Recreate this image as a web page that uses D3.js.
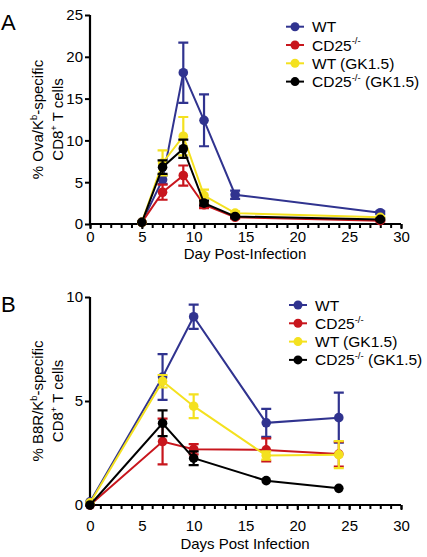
<!DOCTYPE html>
<html><head><meta charset="utf-8">
<script src="https://cdn.jsdelivr.net/npm/d3@7"></script>
<style>body{margin:0;background:#fff}svg{display:block;font-family:"Liberation Sans",Arial,sans-serif}</style>
</head><body><svg id="c" width="427" height="557"></svg>
<script>
const seriesNames = ["WT", "CD25", "WT (GK1.5)", "CD25 (GK1.5)"];
const seriesColors = ["#30338f", "#c8161d", "#f4e11f", "#000000"];

// Panel A
const daysA = [5, 7, 9, 11, 14, 28];
const aWT = [0.2, 5.3, 18.1, 12.4, 3.5, 1.35];
const aWTerr = [0, 0.5, 3.6, 3.1, 0.5, 0.15];
const aCD25 = [0.2, 3.8, 5.8, 2.3, 0.8, 0.4];
const aCD25err = [0, 0.9, 1.2, 0.4, 0.15, 0.1];
const aWTgk = [0.2, 7.3, 10.5, 3.4, 1.3, 0.8];
const aWTgkErr = [0, 1.5, 2.3, 0.7, 0.2, 0.1];
const aCD25gk = [0.2, 6.8, 9.0, 2.5, 0.9, 0.55];
const aCD25gkErr = [0, 0.8, 1.1, 0.3, 0.1, 0.1];

// Panel B
const daysB = [0, 7, 10, 17, 24];
const bWT = [0.15, 6.15, 9.05, 3.95, 4.2];
const bWTerr = [0, 1.1, 0.58, 0.67, 1.2];
const bCD25 = [0, 3.05, 2.68, 2.65, 2.45];
const bCD25err = [0, 1.1, 0.25, 0.55, 0.6];
const bWTgk = [0.1, 5.95, 4.75, 2.38, 2.42];
const bWTgkErr = [0, 0.3, 0.57, 0.2, 0.65];
const bCD25gk = [0, 3.93, 2.25, 1.17, 0.8];
const bCD25gkErr = [0, 0.62, 0.33, 0, 0];

const yTicksA = [0, 5, 10, 15, 20, 25];
const yTicksB = [0, 5, 10];
const xTicks = [0, 5, 10, 15, 20, 25, 30];

const svg = d3.select("#c");

function sup(sel, parts, fs) {
  let raised = false;
  parts.forEach(p => {
    const t = sel.append("tspan").text(p.t);
    if (p.sup) {
      t.attr("dy", -fs*0.4).attr("font-size", fs*0.62);
      raised = true;
    } else if (raised) {
      t.attr("dy", fs*0.4);
      raised = false;
    }
  });
}

function panel(opt) {
  const x = d3.scaleLinear().domain([0, 30]).range([90, 401]);
  const y = d3.scaleLinear().domain([0, opt.ymax]).range([opt.y0, opt.y1]);
  const g = svg.append("g");
  const FS = 15;
  // axes
  const xa = g.append("g").attr("transform", `translate(0,${opt.y0})`)
    .call(d3.axisBottom(x).tickValues(xTicks).tickSize(5).tickPadding(opt.xpad).tickFormat(d3.format("d")));
  const xm = g.append("g").attr("transform", `translate(0,${opt.y0})`)
    .call(d3.axisBottom(x).tickValues(d3.range(0, 31, 1)).tickSize(4).tickFormat(""));
  xm.select(".domain").remove();
  xm.selectAll("line").attr("stroke-width", 2);
  const ya = g.append("g").attr("transform", `translate(90,0)`)
    .call(d3.axisLeft(y).tickValues(opt.yTicks).tickSize(5).tickPadding(2));
  [xa, ya].forEach(a => {
    a.select(".domain").attr("stroke-width", 2.2);
    a.selectAll("line").attr("stroke-width", 2);
    a.selectAll("text").attr("font-size", FS).attr("fill", "#000").attr("font-family", "Liberation Sans, Arial");
  });
  xa.select(".domain").attr("d", `M90,0H401`);
  ya.select(".domain").attr("d", `M0,${opt.y0}V${opt.y1}`);

  const line = d3.line().x(d => x(d[0])).y(d => y(d[1]));
  opt.series.forEach((s, i) => {
    const col = seriesColors[i];
    const pts = opt.days.map((d, j) => [d, s.v[j], s.e[j]]);
    const sg = g.append("g");
    sg.selectAll(".eb").data(pts.filter(p => p[2] > 0)).enter().append("path")
      .attr("d", p => `M${x(p[0])},${y(p[1]-p[2])}V${y(p[1]+p[2])}M${x(p[0])-5},${y(p[1]+p[2])}h10M${x(p[0])-5},${y(p[1]-p[2])}h10`)
      .attr("stroke", col).attr("stroke-width", 2.2).attr("fill", "none");
    sg.append("path").datum(pts).attr("d", line).attr("stroke", col).attr("stroke-width", 2).attr("fill", "none");
    sg.selectAll("circle").data(pts).enter().append("circle")
      .attr("cx", p => x(p[0])).attr("cy", p => y(p[1])).attr("r", 4.8).attr("fill", col);
  });

  // panel letter
  g.append("text").attr("x", 1).attr("y", opt.letterY).attr("font-size", 22).text(opt.letter);
  // y title
  const cy = (opt.y0 + opt.y1) / 2;
  const t1 = g.append("text").attr("transform", `translate(43,${cy}) rotate(-90)`).attr("text-anchor", "middle").attr("font-size", FS);
  sup(t1, opt.ytitle, FS);
  const t2 = g.append("text").attr("transform", `translate(63,${cy}) rotate(-90)`).attr("text-anchor", "middle").attr("font-size", FS);
  sup(t2, [{t: "CD8"}, {t: "+", sup: true}, {t: " T cells"}], FS);
  // x title
  g.append("text").attr("x", 245).attr("y", opt.y0 + opt.xtY).attr("text-anchor", "middle").attr("font-size", FS).text(opt.xtitle);
  // legend
  const lg = g.append("g");
  const labels = [[{t: "WT"}], [{t: "CD25"}, {t: "-/-", sup: true}], [{t: "WT (GK1.5)"}], [{t: "CD25"}, {t: "-/-", sup: true}, {t: " (GK1.5)"}]];
  labels.forEach((lab, i) => {
    const ly = opt.legY + i * 18.3;
    lg.append("line").attr("x1", opt.legX - 9).attr("x2", opt.legX + 9).attr("y1", ly).attr("y2", ly).attr("stroke", seriesColors[i]).attr("stroke-width", 2);
    lg.append("circle").attr("cx", opt.legX).attr("cy", ly).attr("r", 4.5).attr("fill", seriesColors[i]);
    const t = lg.append("text").attr("x", opt.legX + 17).attr("y", ly + 5.5).attr("font-size", 15.5);
    sup(t, lab, 15.5);
  });
}

panel({
  ymax: 25, y0: 224, y1: 15, yTicks: yTicksA, days: daysA,
  series: [{v: aWT, e: aWTerr}, {v: aCD25, e: aCD25err}, {v: aWTgk, e: aWTgkErr}, {v: aCD25gk, e: aCD25gkErr}],
  letter: "A", letterY: 30, xpad: 2, xtY: 35,
  ytitle: [{t: "% Ova/K"}, {t: "b", sup: true}, {t: "-specific"}],
  xtitle: "Day Post-Infection", legX: 295, legY: 26.7
});
panel({
  ymax: 10, y0: 505, y1: 297, yTicks: yTicksB, days: daysB,
  series: [{v: bWT, e: bWTerr}, {v: bCD25, e: bCD25err}, {v: bWTgk, e: bWTgkErr}, {v: bCD25gk, e: bCD25gkErr}],
  letter: "B", letterY: 312, xpad: 10, xtY: 44,
  ytitle: [{t: "% B8R/K"}, {t: "b", sup: true}, {t: "-specific"}],
  xtitle: "Days Post Infection", legX: 298, legY: 305
});
</script></body></html>
